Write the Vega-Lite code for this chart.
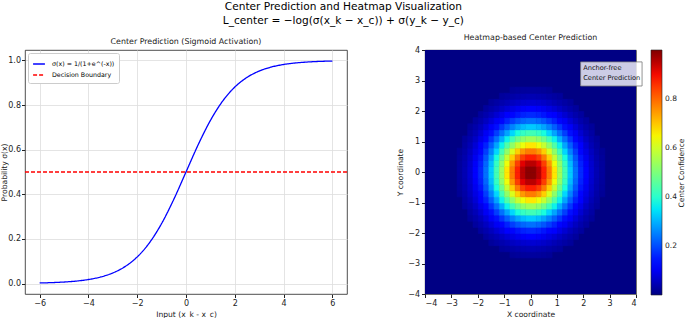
{
"$schema": "https://vega.github.io/schema/vega-lite/v6.json",
"background": "white",
"padding": {"left": 0, "top": 2, "right": 0, "bottom": 0},
"title": {"text": ["Center Prediction and Heatmap Visualization", "L_center = −log(σ(x_k − x_c)) + σ(y_k − y_c)"], "fontSize": 10.6, "lineHeight": 14, "font": "DejaVu Sans", "fontWeight": "normal", "anchor": "middle", "offset": 7, "color": "#000"},
"config": {
 "view": {"stroke": "#222", "strokeWidth": 0.8},
 "axis": {"labelFont": "DejaVu Sans", "labelFontSize": 8, "labelColor": "#222", "titleFont": "DejaVu Sans", "titleFontSize": 7.6, "titleFontWeight": "normal", "titleColor": "#222", "tickColor": "#222", "tickSize": 3.5, "domain": false, "labelPadding": 2, "titlePadding": 3, "gridColor": "#dddddd", "gridWidth": 0.8, "labelOverlap": false},
 "title": {"font": "DejaVu Sans", "fontSize": 7.9, "fontWeight": "normal", "color": "#222", "offset": 4},
 "legend": {"labelFont": "DejaVu Sans", "titleFont": "DejaVu Sans"}
},
"datasets": {
 "sig": [
  {"x":-6,"y":0.002473,"s":"σ(x) = 1/(1+e^(-x))"},{"x":-5.5,"y":0.00407,"s":"σ(x) = 1/(1+e^(-x))"},{"x":-5,"y":0.006693,"s":"σ(x) = 1/(1+e^(-x))"},{"x":-4.5,"y":0.010987,"s":"σ(x) = 1/(1+e^(-x))"},{"x":-4,"y":0.017986,"s":"σ(x) = 1/(1+e^(-x))"},{"x":-3.5,"y":0.029312,"s":"σ(x) = 1/(1+e^(-x))"},{"x":-3,"y":0.047426,"s":"σ(x) = 1/(1+e^(-x))"},{"x":-2.5,"y":0.075858,"s":"σ(x) = 1/(1+e^(-x))"},{"x":-2,"y":0.119203,"s":"σ(x) = 1/(1+e^(-x))"},{"x":-1.5,"y":0.182426,"s":"σ(x) = 1/(1+e^(-x))"},{"x":-1,"y":0.268941,"s":"σ(x) = 1/(1+e^(-x))"},{"x":-0.5,"y":0.377541,"s":"σ(x) = 1/(1+e^(-x))"},{"x":0,"y":0.5,"s":"σ(x) = 1/(1+e^(-x))"},{"x":0.5,"y":0.622459,"s":"σ(x) = 1/(1+e^(-x))"},{"x":1,"y":0.731059,"s":"σ(x) = 1/(1+e^(-x))"},{"x":1.5,"y":0.817574,"s":"σ(x) = 1/(1+e^(-x))"},{"x":2,"y":0.880797,"s":"σ(x) = 1/(1+e^(-x))"},{"x":2.5,"y":0.924142,"s":"σ(x) = 1/(1+e^(-x))"},{"x":3,"y":0.952574,"s":"σ(x) = 1/(1+e^(-x))"},{"x":3.5,"y":0.970688,"s":"σ(x) = 1/(1+e^(-x))"},{"x":4,"y":0.982014,"s":"σ(x) = 1/(1+e^(-x))"},{"x":4.5,"y":0.989013,"s":"σ(x) = 1/(1+e^(-x))"},{"x":5,"y":0.993307,"s":"σ(x) = 1/(1+e^(-x))"},{"x":5.5,"y":0.99593,"s":"σ(x) = 1/(1+e^(-x))"},{"x":6,"y":0.997527,"s":"σ(x) = 1/(1+e^(-x))"}
 ],
 "heat": [
  {"x":-2.7,"y":-0.7,"v":0.02},{"x":-2.7,"y":-0.5,"v":0.023},{"x":-2.7,"y":-0.3,"v":0.025},{"x":-2.7,"y":-0.1,"v":0.026},{"x":-2.7,"y":0.1,"v":0.026},{"x":-2.7,"y":0.3,"v":0.025},{"x":-2.7,"y":0.5,"v":0.023},{"x":-2.7,"y":0.7,"v":0.02},
  {"x":-2.5,"y":-1.1,"v":0.024},{"x":-2.5,"y":-0.9,"v":0.029},{"x":-2.5,"y":-0.7,"v":0.034},{"x":-2.5,"y":-0.5,"v":0.039},{"x":-2.5,"y":-0.3,"v":0.042},{"x":-2.5,"y":-0.1,"v":0.044},{"x":-2.5,"y":0.1,"v":0.044},{"x":-2.5,"y":0.3,"v":0.042},{"x":-2.5,"y":0.5,"v":0.039},{"x":-2.5,"y":0.7,"v":0.034},{"x":-2.5,"y":0.9,"v":0.029},{"x":-2.5,"y":1.1,"v":0.024},
  {"x":-2.3,"y":-1.5,"v":0.023},{"x":-2.3,"y":-1.3,"v":0.031},{"x":-2.3,"y":-1.1,"v":0.039},{"x":-2.3,"y":-0.9,"v":0.047},{"x":-2.3,"y":-0.7,"v":0.056},{"x":-2.3,"y":-0.5,"v":0.063},{"x":-2.3,"y":-0.3,"v":0.068},{"x":-2.3,"y":-0.1,"v":0.071},{"x":-2.3,"y":0.1,"v":0.071},{"x":-2.3,"y":0.3,"v":0.068},{"x":-2.3,"y":0.5,"v":0.063},{"x":-2.3,"y":0.7,"v":0.056},{"x":-2.3,"y":0.9,"v":0.047},{"x":-2.3,"y":1.1,"v":0.039},{"x":-2.3,"y":1.3,"v":0.031},{"x":-2.3,"y":1.5,"v":0.023},
  {"x":-2.1,"y":-1.7,"v":0.026},{"x":-2.1,"y":-1.5,"v":0.036},{"x":-2.1,"y":-1.3,"v":0.047},{"x":-2.1,"y":-1.1,"v":0.06},{"x":-2.1,"y":-0.9,"v":0.074},{"x":-2.1,"y":-0.7,"v":0.086},{"x":-2.1,"y":-0.5,"v":0.097},{"x":-2.1,"y":-0.3,"v":0.105},{"x":-2.1,"y":-0.1,"v":0.11},{"x":-2.1,"y":0.1,"v":0.11},{"x":-2.1,"y":0.3,"v":0.105},{"x":-2.1,"y":0.5,"v":0.097},{"x":-2.1,"y":0.7,"v":0.086},{"x":-2.1,"y":0.9,"v":0.074},{"x":-2.1,"y":1.1,"v":0.06},{"x":-2.1,"y":1.3,"v":0.047},{"x":-2.1,"y":1.5,"v":0.036},{"x":-2.1,"y":1.7,"v":0.026},
  {"x":-1.9,"y":-1.9,"v":0.027},{"x":-1.9,"y":-1.7,"v":0.039},{"x":-1.9,"y":-1.5,"v":0.053},{"x":-1.9,"y":-1.3,"v":0.071},{"x":-1.9,"y":-1.1,"v":0.09},{"x":-1.9,"y":-0.9,"v":0.11},{"x":-1.9,"y":-0.7,"v":0.129},{"x":-1.9,"y":-0.5,"v":0.145},{"x":-1.9,"y":-0.3,"v":0.157},{"x":-1.9,"y":-0.1,"v":0.164},{"x":-1.9,"y":0.1,"v":0.164},{"x":-1.9,"y":0.3,"v":0.157},{"x":-1.9,"y":0.5,"v":0.145},{"x":-1.9,"y":0.7,"v":0.129},{"x":-1.9,"y":0.9,"v":0.11},{"x":-1.9,"y":1.1,"v":0.09},{"x":-1.9,"y":1.3,"v":0.071},{"x":-1.9,"y":1.5,"v":0.053},{"x":-1.9,"y":1.7,"v":0.039},{"x":-1.9,"y":1.9,"v":0.027},
  {"x":-1.7,"y":-2.1,"v":0.026},{"x":-1.7,"y":-1.9,"v":0.039},{"x":-1.7,"y":-1.7,"v":0.056},{"x":-1.7,"y":-1.5,"v":0.077},{"x":-1.7,"y":-1.3,"v":0.101},{"x":-1.7,"y":-1.1,"v":0.129},{"x":-1.7,"y":-0.9,"v":0.157},{"x":-1.7,"y":-0.7,"v":0.184},{"x":-1.7,"y":-0.5,"v":0.208},{"x":-1.7,"y":-0.3,"v":0.225},{"x":-1.7,"y":-0.1,"v":0.235},{"x":-1.7,"y":0.1,"v":0.235},{"x":-1.7,"y":0.3,"v":0.225},{"x":-1.7,"y":0.5,"v":0.208},{"x":-1.7,"y":0.7,"v":0.184},{"x":-1.7,"y":0.9,"v":0.157},{"x":-1.7,"y":1.1,"v":0.129},{"x":-1.7,"y":1.3,"v":0.101},{"x":-1.7,"y":1.5,"v":0.077},{"x":-1.7,"y":1.7,"v":0.056},{"x":-1.7,"y":1.9,"v":0.039},{"x":-1.7,"y":2.1,"v":0.026},
  {"x":-1.5,"y":-2.3,"v":0.023},{"x":-1.5,"y":-2.1,"v":0.036},{"x":-1.5,"y":-1.9,"v":0.053},{"x":-1.5,"y":-1.7,"v":0.077},{"x":-1.5,"y":-1.5,"v":0.105},{"x":-1.5,"y":-1.3,"v":0.139},{"x":-1.5,"y":-1.1,"v":0.177},{"x":-1.5,"y":-0.9,"v":0.217},{"x":-1.5,"y":-0.7,"v":0.254},{"x":-1.5,"y":-0.5,"v":0.287},{"x":-1.5,"y":-0.3,"v":0.31},{"x":-1.5,"y":-0.1,"v":0.323},{"x":-1.5,"y":0.1,"v":0.323},{"x":-1.5,"y":0.3,"v":0.31},{"x":-1.5,"y":0.5,"v":0.287},{"x":-1.5,"y":0.7,"v":0.254},{"x":-1.5,"y":0.9,"v":0.217},{"x":-1.5,"y":1.1,"v":0.177},{"x":-1.5,"y":1.3,"v":0.139},{"x":-1.5,"y":1.5,"v":0.105},{"x":-1.5,"y":1.7,"v":0.077},{"x":-1.5,"y":1.9,"v":0.053},{"x":-1.5,"y":2.1,"v":0.036},{"x":-1.5,"y":2.3,"v":0.023},
  {"x":-1.3,"y":-2.3,"v":0.031},{"x":-1.3,"y":-2.1,"v":0.047},{"x":-1.3,"y":-1.9,"v":0.071},{"x":-1.3,"y":-1.7,"v":0.101},{"x":-1.3,"y":-1.5,"v":0.139},{"x":-1.3,"y":-1.3,"v":0.185},{"x":-1.3,"y":-1.1,"v":0.235},{"x":-1.3,"y":-0.9,"v":0.287},{"x":-1.3,"y":-0.7,"v":0.336},{"x":-1.3,"y":-0.5,"v":0.379},{"x":-1.3,"y":-0.3,"v":0.411},{"x":-1.3,"y":-0.1,"v":0.427},{"x":-1.3,"y":0.1,"v":0.427},{"x":-1.3,"y":0.3,"v":0.411},{"x":-1.3,"y":0.5,"v":0.379},{"x":-1.3,"y":0.7,"v":0.336},{"x":-1.3,"y":0.9,"v":0.287},{"x":-1.3,"y":1.1,"v":0.235},{"x":-1.3,"y":1.3,"v":0.185},{"x":-1.3,"y":1.5,"v":0.139},{"x":-1.3,"y":1.7,"v":0.101},{"x":-1.3,"y":1.9,"v":0.071},{"x":-1.3,"y":2.1,"v":0.047},{"x":-1.3,"y":2.3,"v":0.031},
  {"x":-1.1,"y":-2.5,"v":0.024},{"x":-1.1,"y":-2.3,"v":0.039},{"x":-1.1,"y":-2.1,"v":0.06},{"x":-1.1,"y":-1.9,"v":0.09},{"x":-1.1,"y":-1.7,"v":0.129},{"x":-1.1,"y":-1.5,"v":0.177},{"x":-1.1,"y":-1.3,"v":0.235},{"x":-1.1,"y":-1.1,"v":0.298},{"x":-1.1,"y":-0.9,"v":0.364},{"x":-1.1,"y":-0.7,"v":0.427},{"x":-1.1,"y":-0.5,"v":0.482},{"x":-1.1,"y":-0.3,"v":0.522},{"x":-1.1,"y":-0.1,"v":0.543},{"x":-1.1,"y":0.1,"v":0.543},{"x":-1.1,"y":0.3,"v":0.522},{"x":-1.1,"y":0.5,"v":0.482},{"x":-1.1,"y":0.7,"v":0.427},{"x":-1.1,"y":0.9,"v":0.364},{"x":-1.1,"y":1.1,"v":0.298},{"x":-1.1,"y":1.3,"v":0.235},{"x":-1.1,"y":1.5,"v":0.177},{"x":-1.1,"y":1.7,"v":0.129},{"x":-1.1,"y":1.9,"v":0.09},{"x":-1.1,"y":2.1,"v":0.06},{"x":-1.1,"y":2.3,"v":0.039},{"x":-1.1,"y":2.5,"v":0.024},
  {"x":-0.9,"y":-2.5,"v":0.029},{"x":-0.9,"y":-2.3,"v":0.047},{"x":-0.9,"y":-2.1,"v":0.074},{"x":-0.9,"y":-1.9,"v":0.11},{"x":-0.9,"y":-1.7,"v":0.157},{"x":-0.9,"y":-1.5,"v":0.217},{"x":-0.9,"y":-1.3,"v":0.287},{"x":-0.9,"y":-1.1,"v":0.364},{"x":-0.9,"y":-0.9,"v":0.445},{"x":-0.9,"y":-0.7,"v":0.522},{"x":-0.9,"y":-0.5,"v":0.589},{"x":-0.9,"y":-0.3,"v":0.638},{"x":-0.9,"y":-0.1,"v":0.664},{"x":-0.9,"y":0.1,"v":0.664},{"x":-0.9,"y":0.3,"v":0.638},{"x":-0.9,"y":0.5,"v":0.589},{"x":-0.9,"y":0.7,"v":0.522},{"x":-0.9,"y":0.9,"v":0.445},{"x":-0.9,"y":1.1,"v":0.364},{"x":-0.9,"y":1.3,"v":0.287},{"x":-0.9,"y":1.5,"v":0.217},{"x":-0.9,"y":1.7,"v":0.157},{"x":-0.9,"y":1.9,"v":0.11},{"x":-0.9,"y":2.1,"v":0.074},{"x":-0.9,"y":2.3,"v":0.047},{"x":-0.9,"y":2.5,"v":0.029},
  {"x":-0.7,"y":-2.7,"v":0.02},{"x":-0.7,"y":-2.5,"v":0.034},{"x":-0.7,"y":-2.3,"v":0.056},{"x":-0.7,"y":-2.1,"v":0.086},{"x":-0.7,"y":-1.9,"v":0.129},{"x":-0.7,"y":-1.7,"v":0.184},{"x":-0.7,"y":-1.5,"v":0.254},{"x":-0.7,"y":-1.3,"v":0.336},{"x":-0.7,"y":-1.1,"v":0.427},{"x":-0.7,"y":-0.9,"v":0.522},{"x":-0.7,"y":-0.7,"v":0.613},{"x":-0.7,"y":-0.5,"v":0.691},{"x":-0.7,"y":-0.3,"v":0.748},{"x":-0.7,"y":-0.1,"v":0.779},{"x":-0.7,"y":0.1,"v":0.779},{"x":-0.7,"y":0.3,"v":0.748},{"x":-0.7,"y":0.5,"v":0.691},{"x":-0.7,"y":0.7,"v":0.613},{"x":-0.7,"y":0.9,"v":0.522},{"x":-0.7,"y":1.1,"v":0.427},{"x":-0.7,"y":1.3,"v":0.336},{"x":-0.7,"y":1.5,"v":0.254},{"x":-0.7,"y":1.7,"v":0.184},{"x":-0.7,"y":1.9,"v":0.129},{"x":-0.7,"y":2.1,"v":0.086},{"x":-0.7,"y":2.3,"v":0.056},{"x":-0.7,"y":2.5,"v":0.034},{"x":-0.7,"y":2.7,"v":0.02},
  {"x":-0.5,"y":-2.7,"v":0.023},{"x":-0.5,"y":-2.5,"v":0.039},{"x":-0.5,"y":-2.3,"v":0.063},{"x":-0.5,"y":-2.1,"v":0.097},{"x":-0.5,"y":-1.9,"v":0.145},{"x":-0.5,"y":-1.7,"v":0.208},{"x":-0.5,"y":-1.5,"v":0.287},{"x":-0.5,"y":-1.3,"v":0.379},{"x":-0.5,"y":-1.1,"v":0.482},{"x":-0.5,"y":-0.9,"v":0.589},{"x":-0.5,"y":-0.7,"v":0.691},{"x":-0.5,"y":-0.5,"v":0.779},{"x":-0.5,"y":-0.3,"v":0.844},{"x":-0.5,"y":-0.1,"v":0.878},{"x":-0.5,"y":0.1,"v":0.878},{"x":-0.5,"y":0.3,"v":0.844},{"x":-0.5,"y":0.5,"v":0.779},{"x":-0.5,"y":0.7,"v":0.691},{"x":-0.5,"y":0.9,"v":0.589},{"x":-0.5,"y":1.1,"v":0.482},{"x":-0.5,"y":1.3,"v":0.379},{"x":-0.5,"y":1.5,"v":0.287},{"x":-0.5,"y":1.7,"v":0.208},{"x":-0.5,"y":1.9,"v":0.145},{"x":-0.5,"y":2.1,"v":0.097},{"x":-0.5,"y":2.3,"v":0.063},{"x":-0.5,"y":2.5,"v":0.039},{"x":-0.5,"y":2.7,"v":0.023},
  {"x":-0.3,"y":-2.7,"v":0.025},{"x":-0.3,"y":-2.5,"v":0.042},{"x":-0.3,"y":-2.3,"v":0.068},{"x":-0.3,"y":-2.1,"v":0.105},{"x":-0.3,"y":-1.9,"v":0.157},{"x":-0.3,"y":-1.7,"v":0.225},{"x":-0.3,"y":-1.5,"v":0.31},{"x":-0.3,"y":-1.3,"v":0.411},{"x":-0.3,"y":-1.1,"v":0.522},{"x":-0.3,"y":-0.9,"v":0.638},{"x":-0.3,"y":-0.7,"v":0.748},{"x":-0.3,"y":-0.5,"v":0.844},{"x":-0.3,"y":-0.3,"v":0.914},{"x":-0.3,"y":-0.1,"v":0.951},{"x":-0.3,"y":0.1,"v":0.951},{"x":-0.3,"y":0.3,"v":0.914},{"x":-0.3,"y":0.5,"v":0.844},{"x":-0.3,"y":0.7,"v":0.748},{"x":-0.3,"y":0.9,"v":0.638},{"x":-0.3,"y":1.1,"v":0.522},{"x":-0.3,"y":1.3,"v":0.411},{"x":-0.3,"y":1.5,"v":0.31},{"x":-0.3,"y":1.7,"v":0.225},{"x":-0.3,"y":1.9,"v":0.157},{"x":-0.3,"y":2.1,"v":0.105},{"x":-0.3,"y":2.3,"v":0.068},{"x":-0.3,"y":2.5,"v":0.042},{"x":-0.3,"y":2.7,"v":0.025},
  {"x":-0.1,"y":-2.7,"v":0.026},{"x":-0.1,"y":-2.5,"v":0.044},{"x":-0.1,"y":-2.3,"v":0.071},{"x":-0.1,"y":-2.1,"v":0.11},{"x":-0.1,"y":-1.9,"v":0.164},{"x":-0.1,"y":-1.7,"v":0.235},{"x":-0.1,"y":-1.5,"v":0.323},{"x":-0.1,"y":-1.3,"v":0.427},{"x":-0.1,"y":-1.1,"v":0.543},{"x":-0.1,"y":-0.9,"v":0.664},{"x":-0.1,"y":-0.7,"v":0.779},{"x":-0.1,"y":-0.5,"v":0.878},{"x":-0.1,"y":-0.3,"v":0.951},{"x":-0.1,"y":-0.1,"v":0.99},{"x":-0.1,"y":0.1,"v":0.99},{"x":-0.1,"y":0.3,"v":0.951},{"x":-0.1,"y":0.5,"v":0.878},{"x":-0.1,"y":0.7,"v":0.779},{"x":-0.1,"y":0.9,"v":0.664},{"x":-0.1,"y":1.1,"v":0.543},{"x":-0.1,"y":1.3,"v":0.427},{"x":-0.1,"y":1.5,"v":0.323},{"x":-0.1,"y":1.7,"v":0.235},{"x":-0.1,"y":1.9,"v":0.164},{"x":-0.1,"y":2.1,"v":0.11},{"x":-0.1,"y":2.3,"v":0.071},{"x":-0.1,"y":2.5,"v":0.044},{"x":-0.1,"y":2.7,"v":0.026},
  {"x":0.1,"y":-2.7,"v":0.026},{"x":0.1,"y":-2.5,"v":0.044},{"x":0.1,"y":-2.3,"v":0.071},{"x":0.1,"y":-2.1,"v":0.11},{"x":0.1,"y":-1.9,"v":0.164},{"x":0.1,"y":-1.7,"v":0.235},{"x":0.1,"y":-1.5,"v":0.323},{"x":0.1,"y":-1.3,"v":0.427},{"x":0.1,"y":-1.1,"v":0.543},{"x":0.1,"y":-0.9,"v":0.664},{"x":0.1,"y":-0.7,"v":0.779},{"x":0.1,"y":-0.5,"v":0.878},{"x":0.1,"y":-0.3,"v":0.951},{"x":0.1,"y":-0.1,"v":0.99},{"x":0.1,"y":0.1,"v":0.99},{"x":0.1,"y":0.3,"v":0.951},{"x":0.1,"y":0.5,"v":0.878},{"x":0.1,"y":0.7,"v":0.779},{"x":0.1,"y":0.9,"v":0.664},{"x":0.1,"y":1.1,"v":0.543},{"x":0.1,"y":1.3,"v":0.427},{"x":0.1,"y":1.5,"v":0.323},{"x":0.1,"y":1.7,"v":0.235},{"x":0.1,"y":1.9,"v":0.164},{"x":0.1,"y":2.1,"v":0.11},{"x":0.1,"y":2.3,"v":0.071},{"x":0.1,"y":2.5,"v":0.044},{"x":0.1,"y":2.7,"v":0.026},
  {"x":0.3,"y":-2.7,"v":0.025},{"x":0.3,"y":-2.5,"v":0.042},{"x":0.3,"y":-2.3,"v":0.068},{"x":0.3,"y":-2.1,"v":0.105},{"x":0.3,"y":-1.9,"v":0.157},{"x":0.3,"y":-1.7,"v":0.225},{"x":0.3,"y":-1.5,"v":0.31},{"x":0.3,"y":-1.3,"v":0.411},{"x":0.3,"y":-1.1,"v":0.522},{"x":0.3,"y":-0.9,"v":0.638},{"x":0.3,"y":-0.7,"v":0.748},{"x":0.3,"y":-0.5,"v":0.844},{"x":0.3,"y":-0.3,"v":0.914},{"x":0.3,"y":-0.1,"v":0.951},{"x":0.3,"y":0.1,"v":0.951},{"x":0.3,"y":0.3,"v":0.914},{"x":0.3,"y":0.5,"v":0.844},{"x":0.3,"y":0.7,"v":0.748},{"x":0.3,"y":0.9,"v":0.638},{"x":0.3,"y":1.1,"v":0.522},{"x":0.3,"y":1.3,"v":0.411},{"x":0.3,"y":1.5,"v":0.31},{"x":0.3,"y":1.7,"v":0.225},{"x":0.3,"y":1.9,"v":0.157},{"x":0.3,"y":2.1,"v":0.105},{"x":0.3,"y":2.3,"v":0.068},{"x":0.3,"y":2.5,"v":0.042},{"x":0.3,"y":2.7,"v":0.025},
  {"x":0.5,"y":-2.7,"v":0.023},{"x":0.5,"y":-2.5,"v":0.039},{"x":0.5,"y":-2.3,"v":0.063},{"x":0.5,"y":-2.1,"v":0.097},{"x":0.5,"y":-1.9,"v":0.145},{"x":0.5,"y":-1.7,"v":0.208},{"x":0.5,"y":-1.5,"v":0.287},{"x":0.5,"y":-1.3,"v":0.379},{"x":0.5,"y":-1.1,"v":0.482},{"x":0.5,"y":-0.9,"v":0.589},{"x":0.5,"y":-0.7,"v":0.691},{"x":0.5,"y":-0.5,"v":0.779},{"x":0.5,"y":-0.3,"v":0.844},{"x":0.5,"y":-0.1,"v":0.878},{"x":0.5,"y":0.1,"v":0.878},{"x":0.5,"y":0.3,"v":0.844},{"x":0.5,"y":0.5,"v":0.779},{"x":0.5,"y":0.7,"v":0.691},{"x":0.5,"y":0.9,"v":0.589},{"x":0.5,"y":1.1,"v":0.482},{"x":0.5,"y":1.3,"v":0.379},{"x":0.5,"y":1.5,"v":0.287},{"x":0.5,"y":1.7,"v":0.208},{"x":0.5,"y":1.9,"v":0.145},{"x":0.5,"y":2.1,"v":0.097},{"x":0.5,"y":2.3,"v":0.063},{"x":0.5,"y":2.5,"v":0.039},{"x":0.5,"y":2.7,"v":0.023},
  {"x":0.7,"y":-2.7,"v":0.02},{"x":0.7,"y":-2.5,"v":0.034},{"x":0.7,"y":-2.3,"v":0.056},{"x":0.7,"y":-2.1,"v":0.086},{"x":0.7,"y":-1.9,"v":0.129},{"x":0.7,"y":-1.7,"v":0.184},{"x":0.7,"y":-1.5,"v":0.254},{"x":0.7,"y":-1.3,"v":0.336},{"x":0.7,"y":-1.1,"v":0.427},{"x":0.7,"y":-0.9,"v":0.522},{"x":0.7,"y":-0.7,"v":0.613},{"x":0.7,"y":-0.5,"v":0.691},{"x":0.7,"y":-0.3,"v":0.748},{"x":0.7,"y":-0.1,"v":0.779},{"x":0.7,"y":0.1,"v":0.779},{"x":0.7,"y":0.3,"v":0.748},{"x":0.7,"y":0.5,"v":0.691},{"x":0.7,"y":0.7,"v":0.613},{"x":0.7,"y":0.9,"v":0.522},{"x":0.7,"y":1.1,"v":0.427},{"x":0.7,"y":1.3,"v":0.336},{"x":0.7,"y":1.5,"v":0.254},{"x":0.7,"y":1.7,"v":0.184},{"x":0.7,"y":1.9,"v":0.129},{"x":0.7,"y":2.1,"v":0.086},{"x":0.7,"y":2.3,"v":0.056},{"x":0.7,"y":2.5,"v":0.034},{"x":0.7,"y":2.7,"v":0.02},
  {"x":0.9,"y":-2.5,"v":0.029},{"x":0.9,"y":-2.3,"v":0.047},{"x":0.9,"y":-2.1,"v":0.074},{"x":0.9,"y":-1.9,"v":0.11},{"x":0.9,"y":-1.7,"v":0.157},{"x":0.9,"y":-1.5,"v":0.217},{"x":0.9,"y":-1.3,"v":0.287},{"x":0.9,"y":-1.1,"v":0.364},{"x":0.9,"y":-0.9,"v":0.445},{"x":0.9,"y":-0.7,"v":0.522},{"x":0.9,"y":-0.5,"v":0.589},{"x":0.9,"y":-0.3,"v":0.638},{"x":0.9,"y":-0.1,"v":0.664},{"x":0.9,"y":0.1,"v":0.664},{"x":0.9,"y":0.3,"v":0.638},{"x":0.9,"y":0.5,"v":0.589},{"x":0.9,"y":0.7,"v":0.522},{"x":0.9,"y":0.9,"v":0.445},{"x":0.9,"y":1.1,"v":0.364},{"x":0.9,"y":1.3,"v":0.287},{"x":0.9,"y":1.5,"v":0.217},{"x":0.9,"y":1.7,"v":0.157},{"x":0.9,"y":1.9,"v":0.11},{"x":0.9,"y":2.1,"v":0.074},{"x":0.9,"y":2.3,"v":0.047},{"x":0.9,"y":2.5,"v":0.029},
  {"x":1.1,"y":-2.5,"v":0.024},{"x":1.1,"y":-2.3,"v":0.039},{"x":1.1,"y":-2.1,"v":0.06},{"x":1.1,"y":-1.9,"v":0.09},{"x":1.1,"y":-1.7,"v":0.129},{"x":1.1,"y":-1.5,"v":0.177},{"x":1.1,"y":-1.3,"v":0.235},{"x":1.1,"y":-1.1,"v":0.298},{"x":1.1,"y":-0.9,"v":0.364},{"x":1.1,"y":-0.7,"v":0.427},{"x":1.1,"y":-0.5,"v":0.482},{"x":1.1,"y":-0.3,"v":0.522},{"x":1.1,"y":-0.1,"v":0.543},{"x":1.1,"y":0.1,"v":0.543},{"x":1.1,"y":0.3,"v":0.522},{"x":1.1,"y":0.5,"v":0.482},{"x":1.1,"y":0.7,"v":0.427},{"x":1.1,"y":0.9,"v":0.364},{"x":1.1,"y":1.1,"v":0.298},{"x":1.1,"y":1.3,"v":0.235},{"x":1.1,"y":1.5,"v":0.177},{"x":1.1,"y":1.7,"v":0.129},{"x":1.1,"y":1.9,"v":0.09},{"x":1.1,"y":2.1,"v":0.06},{"x":1.1,"y":2.3,"v":0.039},{"x":1.1,"y":2.5,"v":0.024},
  {"x":1.3,"y":-2.3,"v":0.031},{"x":1.3,"y":-2.1,"v":0.047},{"x":1.3,"y":-1.9,"v":0.071},{"x":1.3,"y":-1.7,"v":0.101},{"x":1.3,"y":-1.5,"v":0.139},{"x":1.3,"y":-1.3,"v":0.185},{"x":1.3,"y":-1.1,"v":0.235},{"x":1.3,"y":-0.9,"v":0.287},{"x":1.3,"y":-0.7,"v":0.336},{"x":1.3,"y":-0.5,"v":0.379},{"x":1.3,"y":-0.3,"v":0.411},{"x":1.3,"y":-0.1,"v":0.427},{"x":1.3,"y":0.1,"v":0.427},{"x":1.3,"y":0.3,"v":0.411},{"x":1.3,"y":0.5,"v":0.379},{"x":1.3,"y":0.7,"v":0.336},{"x":1.3,"y":0.9,"v":0.287},{"x":1.3,"y":1.1,"v":0.235},{"x":1.3,"y":1.3,"v":0.185},{"x":1.3,"y":1.5,"v":0.139},{"x":1.3,"y":1.7,"v":0.101},{"x":1.3,"y":1.9,"v":0.071},{"x":1.3,"y":2.1,"v":0.047},{"x":1.3,"y":2.3,"v":0.031},
  {"x":1.5,"y":-2.3,"v":0.023},{"x":1.5,"y":-2.1,"v":0.036},{"x":1.5,"y":-1.9,"v":0.053},{"x":1.5,"y":-1.7,"v":0.077},{"x":1.5,"y":-1.5,"v":0.105},{"x":1.5,"y":-1.3,"v":0.139},{"x":1.5,"y":-1.1,"v":0.177},{"x":1.5,"y":-0.9,"v":0.217},{"x":1.5,"y":-0.7,"v":0.254},{"x":1.5,"y":-0.5,"v":0.287},{"x":1.5,"y":-0.3,"v":0.31},{"x":1.5,"y":-0.1,"v":0.323},{"x":1.5,"y":0.1,"v":0.323},{"x":1.5,"y":0.3,"v":0.31},{"x":1.5,"y":0.5,"v":0.287},{"x":1.5,"y":0.7,"v":0.254},{"x":1.5,"y":0.9,"v":0.217},{"x":1.5,"y":1.1,"v":0.177},{"x":1.5,"y":1.3,"v":0.139},{"x":1.5,"y":1.5,"v":0.105},{"x":1.5,"y":1.7,"v":0.077},{"x":1.5,"y":1.9,"v":0.053},{"x":1.5,"y":2.1,"v":0.036},{"x":1.5,"y":2.3,"v":0.023},
  {"x":1.7,"y":-2.1,"v":0.026},{"x":1.7,"y":-1.9,"v":0.039},{"x":1.7,"y":-1.7,"v":0.056},{"x":1.7,"y":-1.5,"v":0.077},{"x":1.7,"y":-1.3,"v":0.101},{"x":1.7,"y":-1.1,"v":0.129},{"x":1.7,"y":-0.9,"v":0.157},{"x":1.7,"y":-0.7,"v":0.184},{"x":1.7,"y":-0.5,"v":0.208},{"x":1.7,"y":-0.3,"v":0.225},{"x":1.7,"y":-0.1,"v":0.235},{"x":1.7,"y":0.1,"v":0.235},{"x":1.7,"y":0.3,"v":0.225},{"x":1.7,"y":0.5,"v":0.208},{"x":1.7,"y":0.7,"v":0.184},{"x":1.7,"y":0.9,"v":0.157},{"x":1.7,"y":1.1,"v":0.129},{"x":1.7,"y":1.3,"v":0.101},{"x":1.7,"y":1.5,"v":0.077},{"x":1.7,"y":1.7,"v":0.056},{"x":1.7,"y":1.9,"v":0.039},{"x":1.7,"y":2.1,"v":0.026},
  {"x":1.9,"y":-1.9,"v":0.027},{"x":1.9,"y":-1.7,"v":0.039},{"x":1.9,"y":-1.5,"v":0.053},{"x":1.9,"y":-1.3,"v":0.071},{"x":1.9,"y":-1.1,"v":0.09},{"x":1.9,"y":-0.9,"v":0.11},{"x":1.9,"y":-0.7,"v":0.129},{"x":1.9,"y":-0.5,"v":0.145},{"x":1.9,"y":-0.3,"v":0.157},{"x":1.9,"y":-0.1,"v":0.164},{"x":1.9,"y":0.1,"v":0.164},{"x":1.9,"y":0.3,"v":0.157},{"x":1.9,"y":0.5,"v":0.145},{"x":1.9,"y":0.7,"v":0.129},{"x":1.9,"y":0.9,"v":0.11},{"x":1.9,"y":1.1,"v":0.09},{"x":1.9,"y":1.3,"v":0.071},{"x":1.9,"y":1.5,"v":0.053},{"x":1.9,"y":1.7,"v":0.039},{"x":1.9,"y":1.9,"v":0.027},
  {"x":2.1,"y":-1.7,"v":0.026},{"x":2.1,"y":-1.5,"v":0.036},{"x":2.1,"y":-1.3,"v":0.047},{"x":2.1,"y":-1.1,"v":0.06},{"x":2.1,"y":-0.9,"v":0.074},{"x":2.1,"y":-0.7,"v":0.086},{"x":2.1,"y":-0.5,"v":0.097},{"x":2.1,"y":-0.3,"v":0.105},{"x":2.1,"y":-0.1,"v":0.11},{"x":2.1,"y":0.1,"v":0.11},{"x":2.1,"y":0.3,"v":0.105},{"x":2.1,"y":0.5,"v":0.097},{"x":2.1,"y":0.7,"v":0.086},{"x":2.1,"y":0.9,"v":0.074},{"x":2.1,"y":1.1,"v":0.06},{"x":2.1,"y":1.3,"v":0.047},{"x":2.1,"y":1.5,"v":0.036},{"x":2.1,"y":1.7,"v":0.026},
  {"x":2.3,"y":-1.5,"v":0.023},{"x":2.3,"y":-1.3,"v":0.031},{"x":2.3,"y":-1.1,"v":0.039},{"x":2.3,"y":-0.9,"v":0.047},{"x":2.3,"y":-0.7,"v":0.056},{"x":2.3,"y":-0.5,"v":0.063},{"x":2.3,"y":-0.3,"v":0.068},{"x":2.3,"y":-0.1,"v":0.071},{"x":2.3,"y":0.1,"v":0.071},{"x":2.3,"y":0.3,"v":0.068},{"x":2.3,"y":0.5,"v":0.063},{"x":2.3,"y":0.7,"v":0.056},{"x":2.3,"y":0.9,"v":0.047},{"x":2.3,"y":1.1,"v":0.039},{"x":2.3,"y":1.3,"v":0.031},{"x":2.3,"y":1.5,"v":0.023},
  {"x":2.5,"y":-1.1,"v":0.024},{"x":2.5,"y":-0.9,"v":0.029},{"x":2.5,"y":-0.7,"v":0.034},{"x":2.5,"y":-0.5,"v":0.039},{"x":2.5,"y":-0.3,"v":0.042},{"x":2.5,"y":-0.1,"v":0.044},{"x":2.5,"y":0.1,"v":0.044},{"x":2.5,"y":0.3,"v":0.042},{"x":2.5,"y":0.5,"v":0.039},{"x":2.5,"y":0.7,"v":0.034},{"x":2.5,"y":0.9,"v":0.029},{"x":2.5,"y":1.1,"v":0.024},
  {"x":2.7,"y":-0.7,"v":0.02},{"x":2.7,"y":-0.5,"v":0.023},{"x":2.7,"y":-0.3,"v":0.025},{"x":2.7,"y":-0.1,"v":0.026},{"x":2.7,"y":0.1,"v":0.026},{"x":2.7,"y":0.3,"v":0.025},{"x":2.7,"y":0.5,"v":0.023},{"x":2.7,"y":0.7,"v":0.02}
 ]
},
"spacing": 47,
"hconcat": [
 {
  "width": 322, "height": 244,
  "title": {"text": "Center Prediction (Sigmoid Activation)"},
  "layer": [
   {
    "data": {"name": "sig"},
    "mark": {"type": "line", "strokeWidth": 1.3, "interpolate": "monotone"},
    "encoding": {
     "x": {"field": "x", "type": "quantitative", "title": "Input (x_k - x_c)", "scale": {"domain": [-6.6, 6.6], "nice": false, "zero": false}, "axis": {"values": [-6, -4, -2, 0, 2, 4, 6], "format": "d", "grid": true}},
     "y": {"field": "y", "type": "quantitative", "title": "Probability σ(x)", "scale": {"domain": [-0.047, 1.047], "nice": false, "zero": false}, "axis": {"values": [0, 0.2, 0.4, 0.6, 0.8, 1], "format": ".1f", "grid": true, "titlePadding": -1, "labelPadding": 1}},
     "color": {"field": "s", "type": "nominal", "scale": {"domain": ["σ(x) = 1/(1+e^(-x))", "Decision Boundary"], "range": ["#0000ff", "#ff0000"]}, "legend": {"title": null, "orient": "top-left", "offset": 3, "padding": 4, "strokeColor": "#cccccc", "fillColor": "white", "cornerRadius": 2, "symbolType": "stroke", "symbolSize": 140, "symbolStrokeWidth": 1.5, "labelFontSize": 6.3, "rowPadding": 0, "labelOffset": 6, "encode": {"symbols": {"update": {"stroke": {"signal": "datum.value === 'Decision Boundary' ? '#ff0000' : '#0000ff'"}, "strokeDash": {"signal": "datum.value === 'Decision Boundary' ? [4, 2] : [1, 0]"}}}}}},
     "strokeDash": {"field": "s", "type": "nominal", "scale": {"domain": ["σ(x) = 1/(1+e^(-x))", "Decision Boundary"], "range": [[1, 0], [4, 2]]}, "legend": null}
    }
   },
   {
    "data": {"values": [{"y": 0.5, "s": "Decision Boundary"}]},
    "mark": {"type": "rule", "strokeWidth": 1.3},
    "encoding": {
     "y": {"field": "y", "type": "quantitative", "title": "Probability σ(x)"},
     "color": {"field": "s", "type": "nominal"},
     "strokeDash": {"field": "s", "type": "nominal", "legend": null}
    }
   }
  ]
 },
 {
  "width": 211, "height": 244,
  "title": {"text": "Heatmap-based Center Prediction"},
  "layer": [
   {
    "data": {"values": [{}]},
    "mark": {"type": "rect", "fill": "#000084"},
    "encoding": {
     "x": {"datum": -4, "type": "quantitative", "title": "X coordinate", "scale": {"domain": [-4, 4], "nice": false, "zero": false}, "axis": {"values": [-4, -3, -2, -1, 0, 1, 2, 3, 4], "format": "d", "grid": false}},
     "x2": {"datum": 4},
     "y": {"datum": -4, "type": "quantitative", "title": "Y coordinate", "scale": {"domain": [-4, 4], "nice": false, "zero": false}, "axis": {"values": [-4, -3, -2, -1, 0, 1, 2, 3, 4], "format": "d", "grid": false}},
     "y2": {"datum": 4}
    }
   },
   {
    "data": {"name": "heat"},
    "mark": {"type": "rect", "strokeWidth": 0.6},
    "encoding": {
     "x": {"field": "x", "type": "quantitative", "bin": {"step": 0.2, "extent": [-4, 4]}, "title": "X coordinate", "axis": {"values": [-4, -3, -2, -1, 0, 1, 2, 3, 4], "format": "d", "grid": false}},
     "y": {"field": "y", "type": "quantitative", "bin": {"step": 0.2, "extent": [-4, 4]}, "title": "Y coordinate", "axis": {"values": [-4, -3, -2, -1, 0, 1, 2, 3, 4], "format": "d", "grid": false}},
     "color": {"field": "v", "type": "quantitative", "scale": {"domain": [0, 0.11, 0.125, 0.34, 0.35, 0.375, 0.64, 0.65, 0.66, 0.89, 0.91, 1], "range": ["#000080", "#0000ff", "#0000ff", "#00dbff", "#00e6f7", "#15ffe2", "#efff08", "#f7f500", "#ffec00", "#ff1300", "#e80000", "#800000"], "interpolate": "rgb"}, "legend": {"title": "Center Confidence", "orient": "right", "offset": 15, "gradientLength": 245, "gradientThickness": 11, "values": [0.2, 0.4, 0.6, 0.8], "format": ".1f", "labelFontSize": 7.5, "labelOffset": 3, "labelColor": "#222", "titleOrient": "right", "titleFontSize": 7.4, "titleFontWeight": "normal", "titleColor": "#222", "titlePadding": 1, "gradientStrokeColor": "#222", "gradientStrokeWidth": 0.6, "encode": {"title": {"update": {"angle": {"value": -90}, "baseline": {"value": "top"}}}}}},
     "stroke": {"field": "v", "type": "quantitative", "scale": {"domain": [0, 0.11, 0.125, 0.34, 0.35, 0.375, 0.64, 0.65, 0.66, 0.89, 0.91, 1], "range": ["#000080", "#0000ff", "#0000ff", "#00dbff", "#00e6f7", "#15ffe2", "#efff08", "#f7f500", "#ffec00", "#ff1300", "#e80000", "#800000"], "interpolate": "rgb"}, "legend": null}
    }
   },
   {
    "data": {"values": [{}]},
    "mark": {"type": "rect", "fill": "white", "fillOpacity": 0.8, "stroke": "#777777", "strokeWidth": 0.8},
    "encoding": {
     "x": {"datum": 1.9, "type": "quantitative"},
     "x2": {"datum": 4.23},
     "y": {"datum": 2.82, "type": "quantitative"},
     "y2": {"datum": 3.61}
    }
   },
   {
    "data": {"values": [{"t": "Anchor-free\nCenter Prediction"}]},
    "mark": {"type": "text", "align": "left", "baseline": "middle", "lineBreak": "\n", "fontSize": 6.6, "font": "DejaVu Sans", "color": "#111", "lineHeight": 10.5},
    "encoding": {
     "x": {"datum": 2.0, "type": "quantitative"},
     "y": {"datum": 3.41, "type": "quantitative"},
     "text": {"field": "t", "type": "nominal"}
    }
   }
  ]
 }
]
}
